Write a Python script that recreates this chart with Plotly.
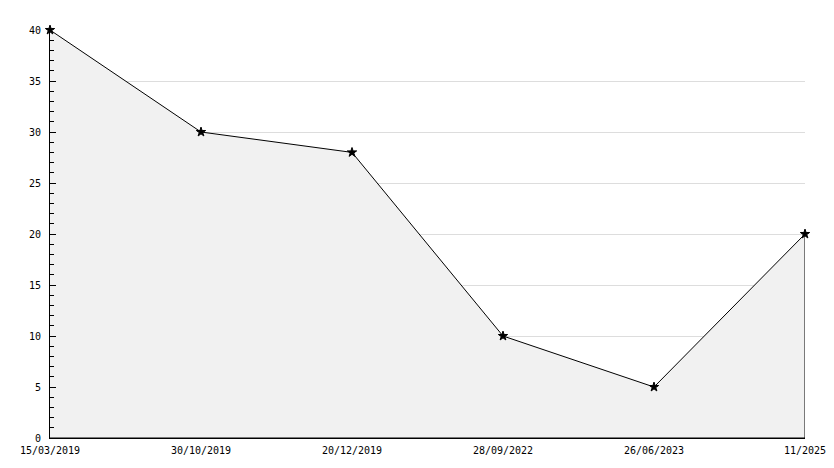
import plotly.graph_objects as go

dates = ["15/03/2019", "30/10/2019", "20/12/2019", "28/09/2022", "26/06/2023", "11/2025"]
values = [40, 30, 28, 10, 5, 20]

# closed outline: along the points, down to zero, back to the start
poly_x = dates + [dates[-1], dates[0]]
poly_y = values + [0, 0]

fig = go.Figure()
fig.add_trace(go.Scatter(
    x=poly_x, y=poly_y, mode="lines", fill="toself",
    fillcolor="#f1f1f1", line=dict(color="black", width=1),
    hoverinfo="skip", showlegend=False))
fig.add_trace(go.Scatter(
    x=dates, y=values, mode="markers", cliponaxis=False,
    marker=dict(symbol="star", size=7, color="black",
                line=dict(color="black", width=1)),
    showlegend=False))

font = dict(family="DejaVu Sans Mono", size=10, color="black")
# the page body adds an 8px offset, margins account for it
fig.update_layout(
    width=834, height=468,
    margin=dict(l=42, r=37, t=22, b=38),
    plot_bgcolor="white", paper_bgcolor="white",
    font=font,
    xaxis=dict(type="category", categoryorder="array", categoryarray=dates,
               range=[0, len(dates) - 1], showgrid=False, zeroline=False,
               showline=True, linecolor="black", linewidth=1, ticks="",
               ticklabelstandoff=3,
               automargin=False, tickfont=font),
    yaxis=dict(range=[0, 40], dtick=5, showgrid=True, gridcolor="#dddddd",
               gridwidth=1, zeroline=False, showline=True, linecolor="black",
               linewidth=1, ticks="inside", ticklen=6, tickcolor="black",
               ticklabelstandoff=6,
               minor=dict(ticks="inside", dtick=1, ticklen=4, tickcolor="black",
                          showgrid=False),
               automargin=False, tickfont=font),
)

fig.write_html("out.html")
